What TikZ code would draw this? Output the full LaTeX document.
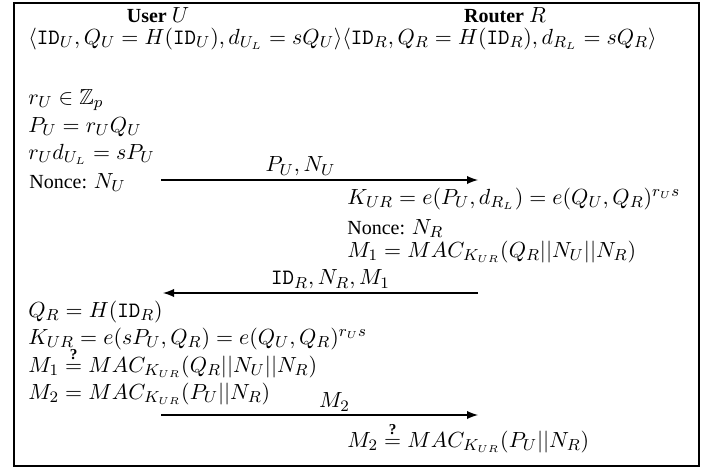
\documentclass[tikz,border=0pt]{standalone}
\usepackage{amsmath,amssymb}
\usepackage[no-math]{fontspec}
\setmainfont{Liberation Serif}
\DeclareMathSizes{10}{10.9}{7.6}{5.5}
\usetikzlibrary{arrows}

\begin{document}
\begin{tikzpicture}[x=0.5pt,y=-0.5pt,
		txt/.style={anchor=base west,inner sep=0pt},
		head/.style={anchor=base,inner sep=0pt,font=\bfseries},
		msg/.style={line width=0.9pt,-latex},
		lbl/.style={above=1.5pt,inner sep=0pt}]
				\useasboundingbox (0,0) rectangle (718,471);
				\draw[line width=1pt] (14,3) rectangle (699,466);
				
				\node[head] (user) at (158,22) {User $U$};
				\node[head] (router) at (505,22) {Router $R$};
				\node[txt] (keys) at (28,44) {$\langle\mathtt{ID}_U, Q_U=H(\mathtt{ID}_U), d_{U_L}=sQ_U\rangle\langle\mathtt{ID}_R, Q_R=H(\mathtt{ID}_R), d_{R_L}=sQ_R\rangle$};
				
				\node[txt] (ru) at (28,104) {$r_U\in\mathbb{Z}_p$};
				\node[txt] (pu) at (28,132) {$P_U=r_UQ_U$};
				\node[txt] (rud) at (28,159) {$r_Ud_{U_L}=sP_U$};
				\node[txt] (nu) at (29,188) {Nonce: $N_U$};
				
				\coordinate (m1s) at (161,180);
				\coordinate (m1e) at (478,180);
				\draw[msg] (m1s) -- node[lbl,xshift=-9.5pt]{$P_U, N_U$} (m1e);
				
				\node[txt] (kr) at (347,204) {$K_{UR}=e(P_U,d_{R_L})=e(Q_U,Q_R)^{r_Us}$};
				\node[txt] (nr) at (347,234) {Nonce: $N_R$};
				\node[txt] (mr) at (347,257) {$M_1=MAC_{K_{UR}}(Q_R||N_U||N_R)$};
				
				\coordinate (m2s) at (478,293);
				\coordinate (m2e) at (163,293);
				\draw[msg] (m2s) -- node[lbl,xshift=5pt]{$\mathtt{ID}_R, N_R, M_1$} (m2e);
				
				\node[txt] (qr) at (28,317) {$Q_R=H(\mathtt{ID}_R)$};
				\node[txt] (ku) at (28,344) {$K_{UR}=e(sP_U,Q_R)=e(Q_U,Q_R)^{r_Us}$};
				\node[txt] (mu) at (28,372) {$M_1\stackrel{\textbf{?}}{=}MAC_{K_{UR}}(Q_R||N_U||N_R)$};
				\node[txt] (mu2) at (28,399) {$M_2=MAC_{K_{UR}}(P_U||N_R)$};
				
				\coordinate (m3s) at (161,415);
				\coordinate (m3e) at (478,415);
				\draw[msg] (m3s) -- node[lbl,xshift=7.5pt]{$M_2$} (m3e);
				
				\node[txt] (mr2) at (347,447) {$M_2\stackrel{\textbf{?}}{=}MAC_{K_{UR}}(P_U||N_R)$};
			\end{tikzpicture}
\end{document}
